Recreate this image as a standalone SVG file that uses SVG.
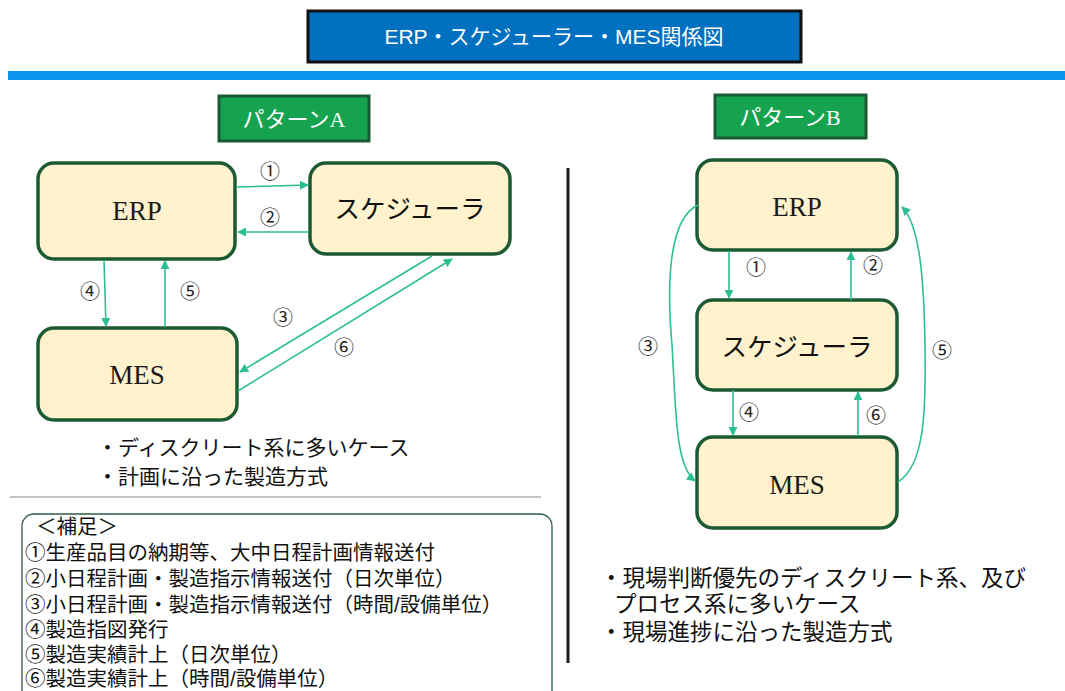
<svg xmlns="http://www.w3.org/2000/svg" width="1065" height="691" viewBox="0 0 1065 691">
<style>
.node{fill:#fff2cc;stroke:#1c5a34;stroke-width:3.5}
.lbl{font-family:"Liberation Serif","Noto Sans CJK JP",serif;font-size:27px;fill:#1a1a1a;text-anchor:middle}
.jp{font-family:"Liberation Sans","Noto Sans CJK JP",sans-serif;fill:#111}
.sch{font-size:25.5px;text-anchor:middle}
.num{font-family:"Noto Sans CJK JP",sans-serif;font-size:20px;fill:#222;text-anchor:middle}
.pat{fill:#16a34f;stroke:#1a5a34;stroke-width:3}
.patt{font-family:"Liberation Serif","Noto Sans CJK JP",serif;font-size:22px;fill:#fff;text-anchor:middle}
.con{fill:none;stroke:#2bbf93;stroke-width:1.6}
.note{font-family:"Liberation Sans","Noto Sans CJK JP",sans-serif;font-size:20.5px;fill:#111}
.descA{font-family:"Liberation Sans","Noto Sans CJK JP",sans-serif;font-size:21px;fill:#111}
.descB{font-family:"Liberation Sans","Noto Sans CJK JP",sans-serif;font-size:22.5px;fill:#111}
</style>
<defs>
<marker id="ah" viewBox="0 0 10 10" refX="9" refY="5" markerWidth="9" markerHeight="9" markerUnits="userSpaceOnUse" orient="auto">
<path d="M0,0 L10,5 L0,10 z" fill="#2bbf93"/>
</marker>
</defs>
<rect width="1065" height="691" fill="#fff"/>
<g id="title">
<rect x="308" y="11" width="493" height="51" fill="#0070c0" stroke="#111" stroke-width="3"/>
<text x="554" y="44" font-family="Liberation Sans,'Noto Sans CJK JP',sans-serif" font-size="21" fill="#fff" text-anchor="middle">ERP・スケジューラー・MES関係図</text>
</g>
<rect x="8" y="71" width="1057" height="9" fill="#0e96ee"/>
<g id="patternA">
<rect class="pat" x="219" y="96" width="150" height="45"/>
<text class="patt" x="294" y="127">パターンA</text>
</g>
<g id="patternB">
<rect class="pat" x="715" y="95" width="151" height="43"/>
<text class="patt" x="790" y="125">パターンB</text>
</g>
<g id="A-ERP"><rect class="node" x="38" y="163" width="197" height="96" rx="16"/><text class="lbl" x="137" y="220">ERP</text></g>
<g id="A-Scheduler"><rect class="node" x="310" y="163" width="200" height="91" rx="16"/><text class="jp sch" x="410" y="218">スケジューラ</text></g>
<g id="A-MES"><rect class="node" x="38" y="328" width="199" height="92" rx="16"/><text class="lbl" x="137" y="384">MES</text></g>
<g id="B-ERP"><rect class="node" x="697" y="160" width="200" height="90" rx="16"/><text class="lbl" x="797" y="216">ERP</text></g>
<g id="B-Scheduler"><rect class="node" x="697" y="300" width="200" height="90" rx="16"/><text class="jp sch" x="797" y="356">スケジューラ</text></g>
<g id="B-MES"><rect class="node" x="697" y="437" width="200" height="91" rx="16"/><text class="lbl" x="797" y="494">MES</text></g>
<g id="connectors">
<line class="con" x1="236" y1="187" x2="308" y2="185" marker-end="url(#ah)"/>
<line class="con" x1="309" y1="232" x2="238" y2="232" marker-end="url(#ah)"/>
<line class="con" x1="104" y1="260" x2="106" y2="326" marker-end="url(#ah)"/>
<line class="con" x1="165" y1="327" x2="165" y2="261" marker-end="url(#ah)"/>
<line class="con" x1="432" y1="256" x2="240" y2="372" marker-end="url(#ah)"/>
<line class="con" x1="238" y1="391" x2="452" y2="259" marker-end="url(#ah)"/>
<line class="con" x1="729" y1="251" x2="729" y2="298" marker-end="url(#ah)"/>
<line class="con" x1="851" y1="300" x2="851" y2="252" marker-end="url(#ah)"/>
<line class="con" x1="733" y1="390" x2="733" y2="435" marker-end="url(#ah)"/>
<line class="con" x1="858" y1="436" x2="858" y2="392" marker-end="url(#ah)"/>
<path class="con" d="M698,205 C665,220 668,300 672,345 C676,410 675,465 695,481" marker-end="url(#ah)"/>
<path class="con" d="M898,482 C925,465 926,410 925,345 C924,280 920,225 902,207" marker-end="url(#ah)"/>
<text class="num" x="270" y="179">①</text>
<text class="num" x="270" y="225">②</text>
<text class="num" x="283" y="325">③</text>
<text class="num" x="90" y="299">④</text>
<text class="num" x="190" y="299">⑤</text>
<text class="num" x="344" y="355">⑥</text>
<text class="num" x="756" y="275">①</text>
<text class="num" x="873" y="273">②</text>
<text class="num" x="648" y="354">③</text>
<text class="num" x="749" y="420">④</text>
<text class="num" x="942" y="358">⑤</text>
<text class="num" x="876" y="423">⑥</text>
</g>
<g id="descA">
<text class="descA" x="97" y="455">・ディスクリート系に多いケース</text>
<text class="descA" x="97" y="484">・計画に沿った製造方式</text>
</g>
<line x1="10" y1="497" x2="541" y2="497" stroke="#888" stroke-width="1.2"/>
<line x1="568" y1="168" x2="568" y2="663" stroke="#1a1a1a" stroke-width="3"/>
<g id="note">
<rect x="22" y="514" width="530" height="190" rx="12" fill="none" stroke="#2e5e46" stroke-width="1.3"/>
<text class="note" x="36" y="534">＜補足＞</text>
<text class="note" x="25" y="560">①生産品目の納期等、大中日程計画情報送付</text>
<text class="note" x="25" y="586">②小日程計画・製造指示情報送付（日次単位）</text>
<text class="note" x="25" y="612">③小日程計画・製造指示情報送付（時間/設備単位）</text>
<text class="note" x="25" y="637">④製造指図発行</text>
<text class="note" x="25" y="662">⑤製造実績計上（日次単位）</text>
<text class="note" x="25" y="686">⑥製造実績計上（時間/設備単位）</text>
</g>
<g id="descB">
<text class="descB" x="600" y="586">・現場判断優先のディスクリート系、及び</text>
<text class="descB" x="614" y="612">プロセス系に多いケース</text>
<text class="descB" x="600" y="640">・現場進捗に沿った製造方式</text>
</g>
</svg>
